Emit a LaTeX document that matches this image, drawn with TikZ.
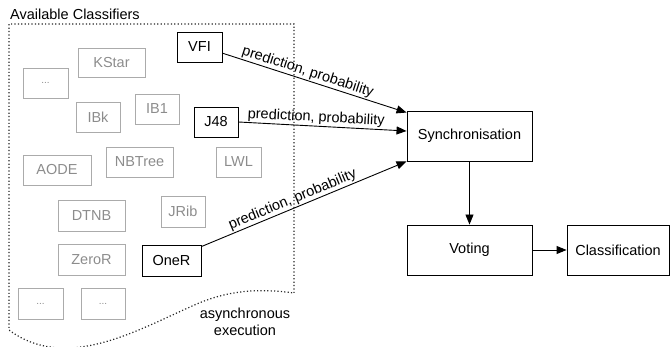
\documentclass[tikz,border=0pt]{standalone}
\usepackage{fontspec}
\setmainfont{Liberation Sans}
\usetikzlibrary{arrows.meta,calc}
\begin{document}
\begin{tikzpicture}[x=1pt,y=-1pt,
  every node/.style={font=\fontsize{14.5}{17}\selectfont},
  blk/.style={draw=black, line width=0.9pt, fill=white, inner sep=0pt},
  gbox/.style={draw=black!33, line width=0.9pt, text=black!45, inner sep=0pt},
  gdots/.style={gbox, font=\fontsize{10}{12}\selectfont},
  arr/.style={-{Triangle[length=10pt,width=8pt]}, line width=0.9pt},
  lbl/.style={sloped, above, inner sep=1pt},
  pool/.style={draw=black!85, line width=1.2pt, dash pattern=on 1.2pt off 2.2pt}]
\useasboundingbox (0,0) rectangle (670,347);

% pool of available classifiers
\draw[pool] (294,293) -- (294,24) -- (9,24) -- (9,330)
  .. controls (25,342) and (45,349) .. (70,348)
  .. controls (110,346) and (150,325) .. (190,307)
  .. controls (220,293) and (250,287) .. (294,293);
\node[anchor=base west, inner sep=0pt] (title) at (10,20) {Available Classifiers};
\node[align=center, inner sep=0pt] (async) at (245,321.5) {asynchronous\\execution};

% idle classifiers
\node[gbox, minimum width=67, minimum height=29] (kstar) at (111.5,62.5) {KStar};
\node[gdots, minimum width=45, minimum height=30] (more1) at (45.5,83) {...};
\node[gbox, minimum width=44, minimum height=30] (ibk) at (98,117) {IBk};
\node[gbox, minimum width=44, minimum height=30] (ibone) at (157,109) {IB1};
\node[gbox, minimum width=68, minimum height=30] (aode) at (57,170) {AODE};
\node[gbox, minimum width=67, minimum height=30] (nbtree) at (139.5,162) {NBTree};
\node[gbox, minimum width=45, minimum height=30] (lwl) at (238.5,162) {LWL};
\node[gbox, minimum width=67, minimum height=31] (dtnb) at (91.5,215.5) {DTNB};
\node[gbox, minimum width=44, minimum height=31] (jrib) at (183,211.5) {JRib};
\node[gbox, minimum width=67, minimum height=31] (zeror) at (91.5,259.5) {ZeroR};
\node[gdots, minimum width=45, minimum height=31] (more2) at (40.5,303.5) {...};
\node[gdots, minimum width=44, minimum height=31] (more3) at (103,303.5) {...};

% active classifiers
\node[blk, minimum width=45, minimum height=30] (vfi) at (199.5,47) {VFI};
\node[blk, minimum width=44, minimum height=30] (jfe) at (216,122) {J48};
\node[blk, minimum width=59, minimum height=31] (oner) at (171.5,260.5) {OneR};

% processing chain
\node[blk, minimum width=125, minimum height=50] (sync) at (469.5,136) {Synchronisation};
\node[blk, minimum width=125, minimum height=50] (vote) at (469.5,250) {Voting};
\node[blk, minimum width=102, minimum height=50] (cls) at (618,250) {Classification};

\draw[arr] ($(vfi.north east)!0.7!(vfi.south east)$) -- node[lbl, pos=0.45] {prediction, probability} ($(sync.north west)+(0,2)$);
\draw[arr] (jfe.east) -- node[lbl, pos=0.46] {prediction, probability} ($(sync.west)+(0,-5)$);
\draw[arr] ($(oner.north east)+(0,2)$) -- node[lbl, pos=0.46] {prediction, probability} (sync.south west);
\draw[arr] (sync.south) -- (vote.north);
\draw[arr] (vote.east) -- (cls.west);
\end{tikzpicture}
\end{document}
